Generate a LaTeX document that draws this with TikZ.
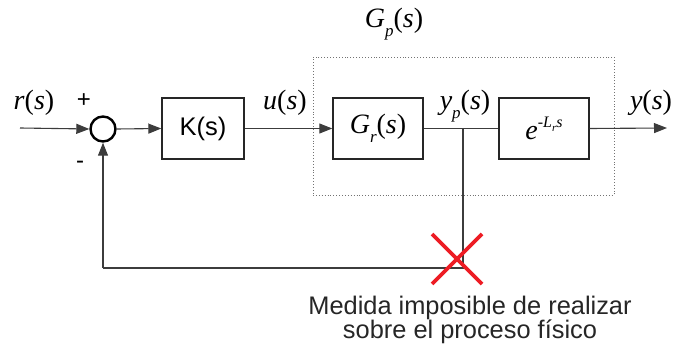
\documentclass[tikz,border=0pt]{standalone}
\usepackage{fontspec}
\setmainfont{Liberation Sans}
\newfontfamily\tms{Liberation Serif}
\usetikzlibrary{arrows.meta}
\definecolor{xred}{RGB}{237,28,36}
\definecolor{wire}{RGB}{60,60,60}
\newcommand{\subi}[1]{\raisebox{-0.32em}{\fontsize{17}{18}\selectfont\textit{#1}}}
\begin{document}
\begin{tikzpicture}[x=1pt,y=-1pt,
  blk/.style={draw=black!85,line width=1.4pt,minimum width=#1,minimum height=61pt,inner sep=0pt},
  blk/.default=90pt,
  wireline/.style={draw=wire,line width=1.1pt},
  arr/.style={wireline,-{Triangle[length=13pt,width=10pt]}},
  lbl/.style={inner sep=0pt,font=\fontsize{28}{30}\selectfont\tms},
  sgn/.style={inner sep=0pt,font=\fontsize{24}{26}\selectfont}]
\useasboundingbox (0,0) rectangle (680,347);
% dotted plant box
\node[draw=black!55,dotted,line width=0.9pt,minimum width=301pt,minimum height=138pt,inner sep=0pt] (gp) at (463.5,126) {};
% blocks
\node[draw,circle,line width=2.4pt,minimum size=25pt,inner sep=0pt] (sum) at (103,129) {};
\node[blk=82pt,font=\fontsize{25.5}{27}\selectfont] (k) at (203,128.5) {K(s)};
\node[blk,font=\fontsize{28}{30}\selectfont\tms] (gr) at (378,128.5) {\textit{G}\subi{r}(\textit{s})};
\node[blk,font=\fontsize{28}{30}\selectfont\tms] (del) at (544,128.5) {\textit{e}\raisebox{0.42em}{\fontsize{16}{17}\selectfont\textit{-L}\raisebox{-0.25em}{\fontsize{11}{12}\selectfont\textit{r}}\textit{s}}};
% coordinates
\coordinate (in) at (20,128);
\coordinate (out) at (667,128);
\coordinate (br) at (463,128);
\coordinate (c1) at (463,268);
\coordinate (c2) at (103,268);
% connectors
\draw[arr] (in) -- (sum.west);
\draw[arr] (sum.east) -- (k.west);
\draw[arr] (k.east) -- (gr.west);
\draw[wireline] (gr.east) -- (del.west);
\draw[arr] (del.east) -- (out);
\draw[wireline] (br) -- (c1) -- (c2);
\draw[arr] (c2) -- (sum.south);
% red cross
\coordinate (x1) at (432,234);
\coordinate (x2) at (482,284);
\coordinate (x3) at (482,234);
\coordinate (x4) at (432,284);
\draw[xred,line width=3.8pt] (x1) -- (x2);
\draw[xred,line width=3.8pt] (x3) -- (x4);
% labels
\node[lbl] (lr) at (34,103) {\textit{r}(\textit{s})};
\node[sgn] (lp) at (84,101) {+};
\node[sgn] (lm) at (80,165) {-};
\node[lbl] (lu) at (285,103) {\textit{u}(\textit{s})};
\node[lbl] (lyp) at (465,106) {\textit{y}\subi{p}(\textit{s})};
\node[lbl] (ly) at (651,103) {\textit{y}(\textit{s})};
\node[lbl] (lgp) at (394,24) {\textit{G}\subi{p}(\textit{s})};
\node[inner sep=0pt,anchor=base,font=\fontsize{25.4}{23}\selectfont,text=black!85] (t1) at (470,315) {Medida imposible de realizar};
\node[inner sep=0pt,anchor=base,font=\fontsize{25.4}{23}\selectfont,text=black!85] (t2) at (470,338) {sobre el proceso físico};
\end{tikzpicture}
\end{document}
